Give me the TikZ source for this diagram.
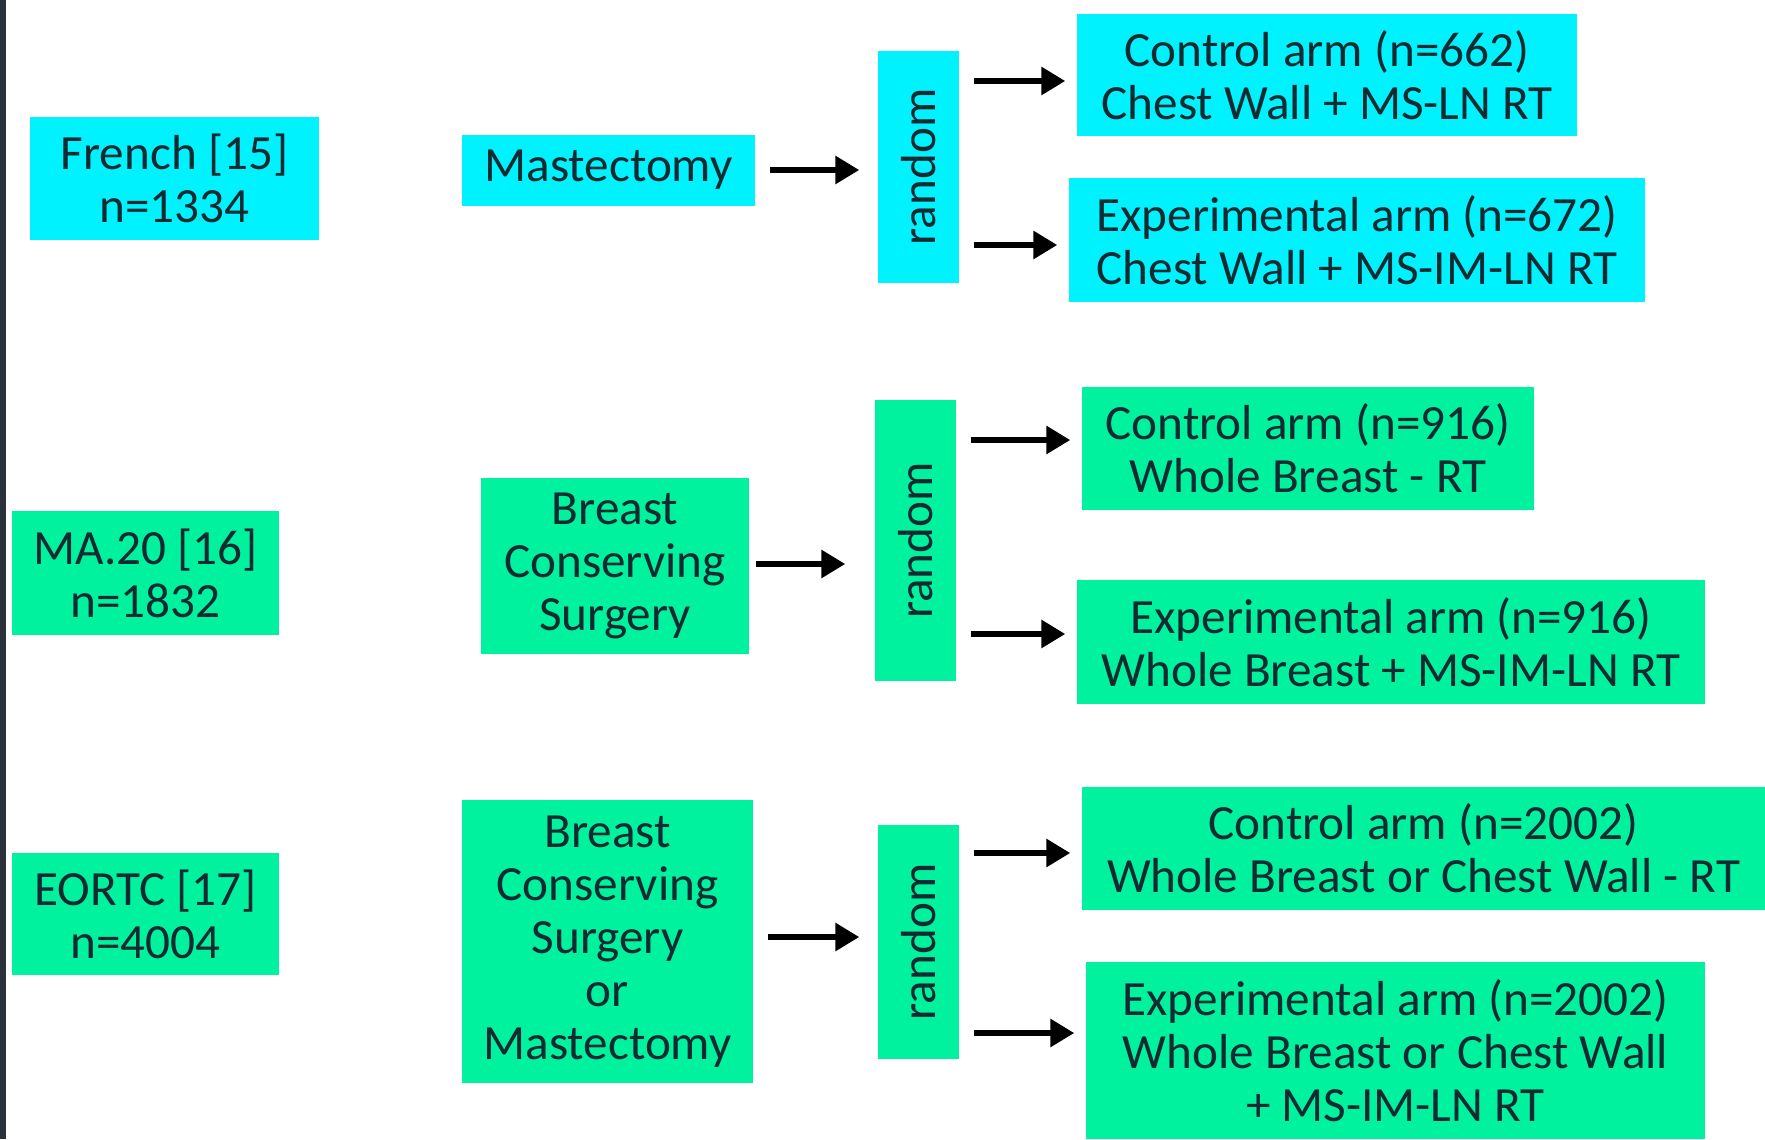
\documentclass[tikz,border=0pt]{standalone}
\usepackage{fontspec}
\setmainfont{Carlito}
\usetikzlibrary{arrows.meta}
\definecolor{trialcyan}{RGB}{0,242,255}
\definecolor{trialgreen}{RGB}{0,242,158}
\definecolor{trialtext}{RGB}{18,42,48}
\definecolor{edgestrip}{RGB}{44,50,60}
\begin{document}
\begin{tikzpicture}[
    x=0.1mm, y=-0.1mm,
    trial/.style={rectangle, inner sep=0pt, align=center, text=trialtext, font=\fontsize{14}{15.1}\selectfont},
    cyanbox/.style={trial, fill=trialcyan},
    greenbox/.style={trial, fill=trialgreen},
    randbox/.style={rotate=90, minimum height=8.1mm},
    arrow/.style={-{Triangle[length=2.4mm,width=2.7mm]}, line width=1.8pt, black, shorten <=1.4mm, shorten >=1.1mm}
]
\useasboundingbox (0,0) rectangle (1765,1139);
\fill[white] (0,0) rectangle (1765,1139);
\fill[edgestrip] (0,0) rectangle (6,1139);

% French trial (top row, cyan)
\node[cyanbox, minimum width=28.9mm, minimum height=12.3mm] (french) at (174.5,178.5) {French [15]\\n=1334};
\node[cyanbox, minimum width=29.3mm, minimum height=7.1mm] (mast1) at (608.5,170) {Mastectomy};
\node[cyanbox, randbox, minimum width=23.2mm] (rand1) at (918.5,167) {random};
\node[cyanbox, minimum width=50mm, minimum height=12.2mm] (ctrl1) at (1327,75) {Control arm (n=662)\\Chest Wall + MS-LN RT};
\node[cyanbox, minimum width=57.6mm, minimum height=12.4mm] (exp1) at (1357,240) {Experimental arm (n=672)\\Chest Wall + MS-IM-LN RT};

% MA.20 trial (middle row, green)
\node[greenbox, minimum width=26.7mm, minimum height=12.4mm] (ma20) at (145.5,573) {MA.20 [16]\\n=1832};
\node[greenbox, minimum width=26.8mm, minimum height=17.6mm] (bcs2) at (615,566) {Breast\\Conserving\\Surgery};
\node[greenbox, randbox, minimum width=28.1mm] (rand2) at (915.5,540.5) {random};
\node[greenbox, minimum width=45.2mm, minimum height=12.3mm] (ctrl2) at (1308,448.5) {Control arm (n=916)\\Whole Breast - RT};
\node[greenbox, minimum width=62.8mm, minimum height=12.4mm] (exp2) at (1391,642) {Experimental arm (n=916)\\Whole Breast + MS-IM-LN RT};

% EORTC trial (bottom row, green)
\node[greenbox, minimum width=26.7mm, minimum height=12.2mm] (eortc) at (145.5,914) {EORTC [17]\\n=4004};
\node[greenbox, minimum width=29.1mm, minimum height=28.3mm] (bcs3) at (607.5,941.5) {Breast\\Conserving\\Surgery\\or\\Mastectomy};
\node[greenbox, randbox, minimum width=23.4mm] (rand3) at (918.5,942) {random};
\node[greenbox, minimum width=68.3mm, minimum height=12.3mm] (ctrl3) at (1423.5,848.5) {Control arm (n=2002)\\Whole Breast or Chest Wall - RT};
\node[greenbox, minimum width=61.9mm, minimum height=17.7mm] (exp3) at (1395.5,1050.5) {Experimental arm (n=2002)\\Whole Breast or Chest Wall\\+ MS-IM-LN RT};

% Fleches vers la randomisation puis vers les bras
\draw[arrow, shorten >=1.8mm] (mast1.east) -- (rand1.north |- mast1.east);
\draw[arrow] ([yshift=-0.6mm]rand1.south |- ctrl1.west) -- ([yshift=-0.6mm]ctrl1.west);
\draw[arrow] ([yshift=-0.5mm]rand1.south |- exp1.west) -- ([yshift=-0.5mm]exp1.west);

\draw[arrow, shorten <=0.6mm, shorten >=2.9mm] ([yshift=0.2mm]bcs2.east) -- ([yshift=0.2mm]rand2.north |- bcs2.east);
\draw[arrow] ([yshift=0.85mm]rand2.south |- ctrl2.west) -- ([yshift=0.85mm]ctrl2.west);
\draw[arrow] ([yshift=0.8mm]rand2.south |- exp2.west) -- ([yshift=0.8mm]exp2.west);

\draw[arrow, shorten >=1.8mm] ([yshift=0.45mm]bcs3.east) -- ([yshift=0.45mm]rand3.north |- bcs3.east);
\draw[arrow] ([yshift=-0.45mm]rand3.south |- ctrl3.west) -- ([yshift=-0.45mm]ctrl3.west);
\draw[arrow] ([yshift=1.75mm]rand3.south |- exp3.west) -- ([yshift=1.75mm]exp3.west);

\end{tikzpicture}
\end{document}
